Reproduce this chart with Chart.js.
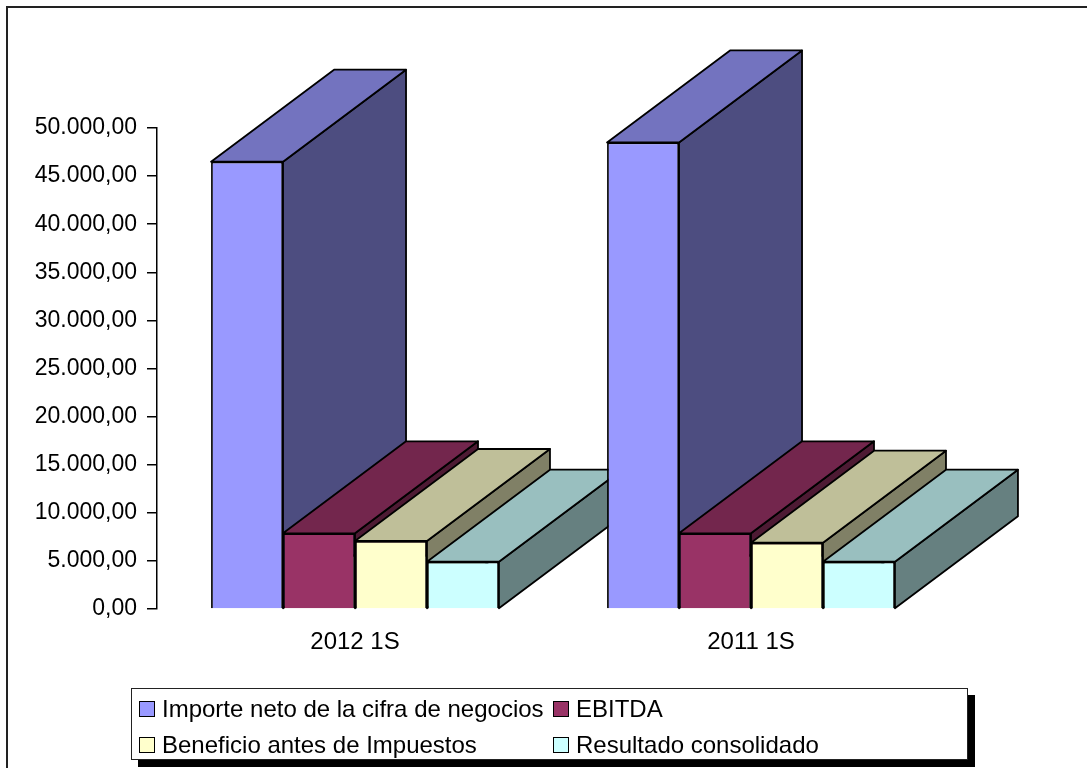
<!DOCTYPE html>
<html>
<head>
<meta charset="utf-8">
<script src="https://cdn.jsdelivr.net/npm/chart.js@4"></script>
<style>
  body { margin: 0; background: #fff; font-family: "Liberation Sans", Arial, sans-serif; overflow: hidden; }
  #frame { position: absolute; left: 6px; top: 6px; width: 1200px; height: 900px; border: 2px solid #222; }
  #wrap { position: absolute; left: 0; top: 0; width: 1087px; height: 768px; }
  #legend { position: absolute; left: 131px; top: 688px; width: 835px; height: 70px;
            border: 1.5px solid #222; background: #fff; box-shadow: 7px 7px 0 #000; }
  .item { position: absolute; display: flex; align-items: center; font-size: 24px; color: #000;
          white-space: nowrap; height: 28px; line-height: 28px; }
  .sw { width: 14px; height: 14px; border: 1.5px solid #000; margin-right: 7px; }
</style>
</head>
<body>
<div id="frame"></div>
<div id="wrap"><canvas id="chart" width="1087" height="768"></canvas></div>
<div id="legend"></div>

<script>
// ===== data =====
const categories = ["2012 1S", "2011 1S"];
const seriesNames = [
  "Importe neto de la cifra de negocios",
  "EBITDA",
  "Beneficio antes de Impuestos",
  "Resultado consolidado",
];
const importeNeto = [46500, 48500];
const ebitda = [7870, 7870];
const beneficio = [7070, 6890];
const resultado = [4920, 4920];

const yMin = 0, yMax = 50000, yStep = 5000;

// colores: frente / arriba / lado
const frontColors = ["#9999FF", "#993366", "#FFFFCC", "#CCFFFF"];
const topColors = ["#7373BF", "#73264D", "#BFBF99", "#99BFBF"];
const sideColors = ["#4D4D80", "#4D1A33", "#808066", "#668080"];

const DEPTH_X = 123, DEPTH_Y = 92;

// 5000 -> "5.000,00"
function fmt(v) {
  const s = Math.round(v).toString().replace(/\B(?=(\d{3})+(?!\d))/g, ".");
  return s + ",00";
}

function poly(ctx, pts, fill) {
  ctx.beginPath();
  ctx.moveTo(pts[0][0], pts[0][1]);
  for (let k = 1; k < pts.length; k++) ctx.lineTo(pts[k][0], pts[k][1]);
  ctx.closePath();
  ctx.fillStyle = fill;
  ctx.fill();
  ctx.stroke();
}

// caras laterales y superiores (efecto 3D), se pintan antes de los frentes
const depth3d = {
  id: "depth3d",
  beforeDatasetsDraw(chart) {
    const ctx = chart.ctx;
    ctx.save();
    ctx.lineWidth = 1.8;
    ctx.strokeStyle = "#000";
    ctx.lineJoin = "round";
    for (let i = 0; i < chart.data.labels.length; i++) {
      chart.data.datasets.forEach((ds, d) => {
        const bar = chart.getDatasetMeta(d).data[i];
        const left = bar.x - bar.width / 2, right = bar.x + bar.width / 2;
        const top = bar.y, bottom = bar.base;
        poly(ctx, [[right, top], [right + DEPTH_X, top - DEPTH_Y],
                   [right + DEPTH_X, bottom - DEPTH_Y], [right, bottom]], sideColors[d]);
        poly(ctx, [[left, top], [left + DEPTH_X, top - DEPTH_Y],
                   [right + DEPTH_X, top - DEPTH_Y], [right, top]], topColors[d]);
      });
    }
    ctx.restore();
  },
};

const values = [importeNeto, ebitda, beneficio, resultado];
const FONT = "'Liberation Sans', Arial, sans-serif";

const chart = new Chart(document.getElementById("chart"), {
  type: "bar",
  data: {
    labels: categories,
    datasets: seriesNames.map((name, d) => ({
      label: name,
      data: values[d],
      backgroundColor: frontColors[d],
      borderColor: "#000",
      borderWidth: 1.8,
      categoryPercentage: 0.727,
      barPercentage: 1.0,
    })),
  },
  options: {
    responsive: false,
    animation: false,
    layout: { padding: { left: 0, top: 128, right: 138, bottom: 99 } },
    plugins: { legend: { display: false }, tooltip: { enabled: false } },
    scales: {
      x: {
        grid: { display: false },
        border: { display: false },
        ticks: { color: "#000", font: { family: FONT, size: 24 }, padding: 11 },
        afterFit(scale) { scale.height = 60; },
      },
      y: {
        min: yMin,
        max: yMax,
        grid: { drawOnChartArea: false, drawTicks: true, tickLength: 10, color: "#000", lineWidth: 1.5 },
        border: { display: true, color: "#000", width: 1.5 },
        ticks: { stepSize: yStep, color: "#000", font: { family: FONT, size: 23 }, padding: 10,
                 callback: (v) => fmt(v) },
        afterFit(scale) { scale.width = 157; },
      },
    },
  },
  plugins: [depth3d],
});

// leyenda en HTML, 2 columnas
const legend = document.getElementById("legend");
const spots = [[7, 6], [421, 6], [7, 42], [421, 42]];
chart.data.datasets.forEach((ds, d) => {
  const it = document.createElement("div");
  it.className = "item";
  it.style.left = spots[d][0] + "px";
  it.style.top = spots[d][1] + "px";
  it.innerHTML = `<span class="sw" style="background:${ds.backgroundColor}"></span>${ds.label}`;
  legend.appendChild(it);
});
</script>
</body>
</html>
